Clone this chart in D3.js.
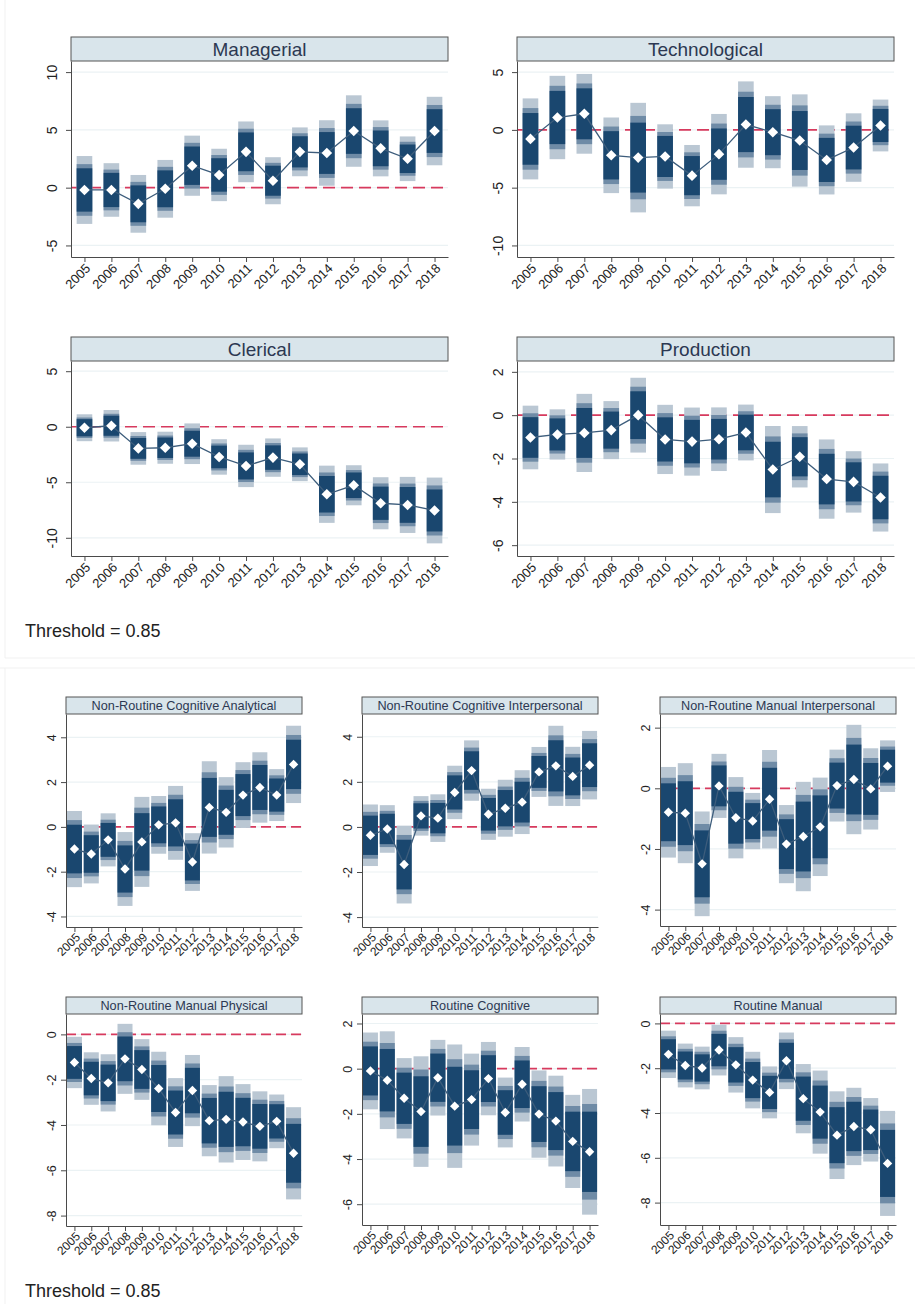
<!DOCTYPE html>
<html>
<head>
<meta charset="utf-8">
<script src="https://cdn.jsdelivr.net/npm/d3@7"></script>
<style>
  body { margin: 0; background: #fff; }
  svg { display: block; font-family: "Liberation Sans", Arial, sans-serif; }
</style>
</head>
<body>
<div id="chart"></div>
<script>
const years = ['2005', '2006', '2007', '2008', '2009', '2010', '2011', '2012', '2013', '2014', '2015', '2016', '2017', '2018'];

// point estimates and standard errors
const managerialCoef = [-0.2, -0.2, -1.4, -0.1, 1.9, 1.1, 3.1, 0.6, 3.1, 3.0, 4.9, 3.4, 2.5, 4.9];
const managerialSe = [1.14, 0.90, 0.97, 0.97, 1.01, 0.88, 1.02, 0.79, 0.82, 1.10, 1.20, 0.94, 0.75, 1.15];
const technologicalCoef = [-0.78, 1.07, 1.39, -2.2, -2.4, -2.3, -3.96, -2.1, 0.46, -0.2, -0.92, -2.6, -1.53, 0.38];
const technologicalSe = [1.36, 1.40, 1.34, 1.27, 1.84, 1.08, 1.03, 1.35, 1.45, 1.21, 1.55, 1.16, 1.15, 0.87];
const clericalCoef = [-0.09, 0.09, -1.95, -1.89, -1.53, -2.72, -3.53, -2.78, -3.38, -6.08, -5.27, -6.89, -7.04, -7.54];
const clericalSe = [0.47, 0.55, 0.57, 0.56, 0.71, 0.62, 0.74, 0.67, 0.59, 1.00, 0.70, 0.91, 0.98, 1.15];
const productionCoef = [-1.03, -0.89, -0.82, -0.69, 0.0, -1.12, -1.22, -1.11, -0.80, -2.51, -1.92, -2.95, -3.08, -3.80];
const productionSe = [0.57, 0.45, 0.70, 0.52, 0.67, 0.62, 0.61, 0.57, 0.50, 0.78, 0.55, 0.71, 0.55, 0.61];
const nrcaCoef = [-0.99, -1.21, -0.58, -1.88, -0.67, 0.09, 0.18, -1.57, 0.87, 0.65, 1.42, 1.76, 1.42, 2.79];
const nrcaSe = [0.66, 0.51, 0.46, 0.64, 0.78, 0.50, 0.64, 0.50, 0.80, 0.61, 0.57, 0.61, 0.45, 0.67];
const nrciCoef = [-0.37, -0.09, -1.67, 0.49, 0.39, 1.53, 2.50, 0.56, 0.83, 1.10, 2.44, 2.71, 2.24, 2.74];
const nrciSe = [0.53, 0.41, 0.67, 0.34, 0.41, 0.46, 0.52, 0.44, 0.49, 0.55, 0.43, 0.69, 0.51, 0.59];
const nrmiCoef = [-0.79, -0.82, -2.49, 0.08, -0.97, -1.08, -0.36, -1.84, -1.59, -1.27, 0.09, 0.29, -0.02, 0.73];
const nrmiSe = [0.58, 0.64, 0.67, 0.41, 0.52, 0.36, 0.63, 0.50, 0.70, 0.63, 0.46, 0.70, 0.52, 0.33];
const nrmpCoef = [-1.24, -1.95, -2.14, -1.08, -1.55, -2.39, -3.45, -2.48, -3.81, -3.75, -3.87, -4.06, -3.84, -5.25];
const nrmpSe = [0.44, 0.45, 0.49, 0.60, 0.52, 0.63, 0.59, 0.61, 0.61, 0.74, 0.65, 0.60, 0.46, 0.79];
const rcCoef = [-0.10, -0.51, -1.31, -1.90, -0.40, -1.66, -1.37, -0.44, -1.94, -0.69, -2.01, -2.32, -3.22, -3.68];
const rcSe = [0.66, 0.84, 0.69, 0.95, 0.65, 1.06, 0.79, 0.63, 0.60, 0.64, 0.75, 0.78, 0.80, 1.08];
const rmCoef = [-1.38, -1.88, -1.99, -1.19, -1.85, -2.53, -3.08, -1.67, -3.36, -3.96, -4.99, -4.60, -4.75, -6.25];
const rmSe = [0.41, 0.38, 0.37, 0.44, 0.48, 0.49, 0.45, 0.49, 0.60, 0.72, 0.76, 0.67, 0.55, 0.91];

// confidence levels, widest first (99 / 95 / 90)
const ciZ = [2.576, 1.96, 1.645];
const ciColor = ['#bac7d3', '#6f8ba6', '#1a476f'];

const panels = [
  { title: 'Managerial', coef: managerialCoef, se: managerialSe, x0: 71, x1: 448, top: 37, bottom: 257, domain: [-6, 10.96], ticks: [-5, 0, 5, 10], big: true },
  { title: 'Technological', coef: technologicalCoef, se: technologicalSe, x0: 517, x1: 894, top: 37, bottom: 257, domain: [-11, 5.96], ticks: [-10, -5, 0, 5], big: true },
  { title: 'Clerical', coef: clericalCoef, se: clericalSe, x0: 71, x1: 448, top: 337, bottom: 556, domain: [-11.64, 5.92], ticks: [-10, -5, 0, 5], big: true },
  { title: 'Production', coef: productionCoef, se: productionSe, x0: 517, x1: 894, top: 337, bottom: 556, domain: [-6.5, 2.5], ticks: [-6, -4, -2, 0, 2], big: true },
  { title: 'Non-Routine Cognitive Analytical', coef: nrcaCoef, se: nrcaSe, x0: 66, x1: 302, top: 697, bottom: 927, domain: [-4.47, 5.04], ticks: [-4, -2, 0, 2, 4], big: false },
  { title: 'Non-Routine Cognitive Interpersonal', coef: nrciCoef, se: nrciSe, x0: 362, x1: 598, top: 697, bottom: 927, domain: [-4.44, 5.01], ticks: [-4, -2, 0, 2, 4], big: false },
  { title: 'Non-Routine Manual Interpersonal', coef: nrmiCoef, se: nrmiSe, x0: 660, x1: 896, top: 697, bottom: 926, domain: [-4.54, 2.45], ticks: [-4, -2, 0, 2], big: false },
  { title: 'Non-Routine Manual Physical', coef: nrmpCoef, se: nrmpSe, x0: 66, x1: 302, top: 997, bottom: 1226, domain: [-8.46, 0.9], ticks: [-8, -6, -4, -2, 0], big: false },
  { title: 'Routine Cognitive', coef: rcCoef, se: rcSe, x0: 362, x1: 598, top: 997, bottom: 1225, domain: [-6.92, 2.42], ticks: [-6, -4, -2, 0, 2], big: false },
  { title: 'Routine Manual', coef: rmCoef, se: rmSe, x0: 660, x1: 896, top: 997, bottom: 1225, domain: [-9.0, 0.42], ticks: [-8, -6, -4, -2, 0], big: false },
];

const W = 915;
const H = 1304;

const svg = d3.select('#chart').append('svg').attr('width', W).attr('height', H);
svg.append('rect').attr('width', W).attr('height', H).attr('fill', '#fff');

// faint frame round the two stacked figures
svg.append('path')
  .attr('d', 'M5,0V658H915')
  .attr('fill', 'none').attr('stroke', '#f1f1f1');
svg.append('path')
  .attr('d', 'M0,668H915M5,668V1304')
  .attr('fill', 'none').attr('stroke', '#f1f1f1');

function drawPanel(p) {
  const cfg = p.big
    ? { strip: 24, titleSize: 19, yFont: 14, yOff: 14, xFont: 13, barFrac: 0.58, marker: 56, xdx: 3, xdy: 9 }
    : { strip: 17, titleSize: 12.7, yFont: 12.5, yOff: 10.5, xFont: 12, barFrac: 0.89, marker: 44, xdx: 3, xdy: 8 };
  const plotTop = p.top + cfg.strip;
  const g = svg.append('g');

  const x = d3.scalePoint().domain(years).range([p.x0, p.x1]).padding(0.5);
  const y = d3.scaleLinear().domain(p.domain).range([p.bottom, plotTop]);
  const bw = x.step() * cfg.barFrac;

  const rows = years.map((yr, i) => ({ yr, b: p.coef[i], se: p.se[i] }));

  // grid
  g.selectAll('line.grid')
    .data(p.ticks).enter().append('line')
    .attr('class', 'grid')
    .attr('x1', p.x0).attr('x2', p.x1)
    .attr('y1', d => y(d)).attr('y2', d => y(d))
    .attr('stroke', '#ebf2f4').attr('stroke-width', 1.2);

  // reference line at zero
  g.append('line')
    .attr('x1', p.x0).attr('x2', p.x1)
    .attr('y1', y(0)).attr('y2', y(0))
    .attr('stroke', '#d73a5e').attr('stroke-width', 1.7)
    .attr('stroke-dasharray', p.big ? '12,6' : '10,5');

  // CI bars
  ciZ.forEach((z, k) => {
    g.selectAll(null)
      .data(rows).enter().append('rect')
      .attr('x', d => x(d.yr) - bw / 2)
      .attr('width', bw)
      .attr('y', d => y(d.b + z * d.se))
      .attr('height', d => y(d.b - z * d.se) - y(d.b + z * d.se))
      .attr('fill', ciColor[k]);
  });

  // connecting line
  g.append('path')
    .datum(rows)
    .attr('d', d3.line().x(d => x(d.yr)).y(d => y(d.b)))
    .attr('fill', 'none')
    .attr('stroke', '#3d5d7c')
    .attr('stroke-width', 1.3);

  // markers
  g.selectAll('path.mk')
    .data(rows).enter().append('path')
    .attr('class', 'mk')
    .attr('d', d3.symbol(d3.symbolSquare, cfg.marker))
    .attr('transform', d => `translate(${x(d.yr)},${y(d.b)}) rotate(45)`)
    .attr('fill', '#fff');

  // y axis
  const ya = g.append('g')
    .attr('transform', `translate(${p.x0},0)`)
    .call(d3.axisLeft(y).tickValues(p.ticks).tickSize(5).tickSizeOuter(0).tickFormat(d => String(d)));
  ya.select('.domain').attr('stroke', '#4a4a4a');
  ya.selectAll('.tick line').attr('stroke', '#4a4a4a');
  ya.selectAll('.tick text')
    .attr('x', null).attr('dy', null)
    .attr('text-anchor', 'middle')
    .attr('transform', `translate(${-cfg.yOff},0) rotate(-90)`)
    .attr('font-size', cfg.yFont)
    .attr('font-family', null)
    .attr('fill', '#222');

  // x axis
  const xa = g.append('g')
    .attr('transform', `translate(0,${p.bottom})`)
    .call(d3.axisBottom(x).tickSize(5).tickSizeOuter(0));
  xa.select('.domain').attr('stroke', '#4a4a4a');
  xa.selectAll('.tick line').attr('stroke', '#4a4a4a');
  xa.selectAll('.tick text')
    .attr('y', null).attr('dy', '0.35em')
    .attr('text-anchor', 'end')
    .attr('transform', `translate(${cfg.xdx},${cfg.xdy}) rotate(-45)`)
    .attr('font-size', cfg.xFont)
    .attr('font-family', null)
    .attr('fill', '#222');

  // strip title
  g.append('rect')
    .attr('x', p.x0).attr('y', p.top)
    .attr('width', p.x1 - p.x0).attr('height', cfg.strip)
    .attr('fill', '#d9e5eb')
    .attr('stroke', '#555').attr('stroke-width', 1);
  g.append('text')
    .attr('x', (p.x0 + p.x1) / 2)
    .attr('y', p.top + cfg.strip / 2)
    .attr('dy', '0.36em')
    .attr('text-anchor', 'middle')
    .attr('font-size', cfg.titleSize)
    .attr('fill', '#2c3852')
    .text(p.title);
}

panels.forEach(drawPanel);

// notes under each figure
const notes = [{ text: 'Threshold = 0.85', y: 637 }, { text: 'Threshold = 0.85', y: 1297 }];
svg.selectAll('text.note')
  .data(notes).enter().append('text')
  .attr('class', 'note')
  .attr('x', 25)
  .attr('y', d => d.y)
  .attr('font-size', 18)
  .attr('fill', '#222')
  .text(d => d.text);
</script>
</body>
</html>
